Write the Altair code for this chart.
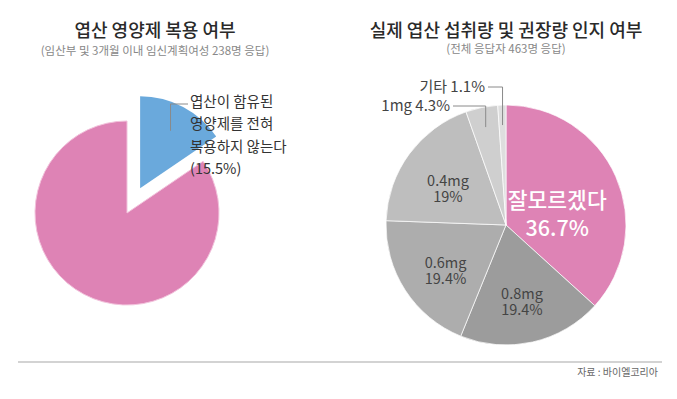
import math
import altair as alt
import pandas as pd

# ---------------- data ----------------
left_label_lines = ["엽산이 함유된", "영양제를 전혀", "복용하지 않는다"]
left_cats = [" ".join(left_label_lines), "복용한다"]
left_vals = [15.5, 84.5]

right_cats = ["잘모르겠다", "0.8mg", "0.6mg", "0.4mg", "1mg", "기타"]
right_vals = [36.7, 19.4, 19.4, 19.0, 4.3, 1.1]

left_title = "엽산 영양제 복용 여부"
left_sub = "(임산부 및 3개월 이내 임신계획여성 238명 응답)"
right_title = "실제 엽산 섭취량 및 권장량 인지 여부"
right_sub = "(전체 응답자 463명 응답)"
source = "자료 : 바이엘코리아"

left_colors = ["#6aa9dc", "#de83b5"]
right_colors = ["#de83b5", "#9c9c9c", "#adadad", "#bebebe", "#cfcfcf", "#dedede"]

FONT = "Noto Sans CJK KR"

# layout (chart pixel coords)
LCX, LCY, LR, EXPLODE = 119, 205, 92, 28
RCX, RCY, RR = 498, 217, 120


def shares(cats, vals):
    total = sum(vals)
    rows, acc = [], 0.0
    for c, v in zip(cats, vals):
        s = acc / total
        acc += v
        e = acc / total
        rows.append({"cat": c, "val": v, "start": s, "end": e, "mid": (s + e) / 2,
                     "lab": f"{c}\n{v:g}%", "olab": f"{c} {v:g}%"})
    return pd.DataFrame(rows)


L = shares(left_cats, left_vals)
R = shares(right_cats, right_vals)

# exploded centre of the first left slice and leader end points
L["bx"] = LCX + EXPLODE * (L["mid"] * 2 * math.pi).apply(math.sin)
L["by"] = LCY - EXPLODE * (L["mid"] * 2 * math.pi).apply(math.cos)
L["ex"] = L["bx"] + 65 * (L["mid"] * 2 * math.pi).apply(math.sin)
L["ey"] = L["by"] - 65 * (L["mid"] * 2 * math.pi).apply(math.cos)
R["px"] = RCX + 100 * (R["mid"] * 2 * math.pi).apply(math.sin)
R["py"] = RCY - 100 * (R["mid"] * 2 * math.pi).apply(math.cos)

TS = alt.Scale(domain=[0, 1], range=[0, 2 * math.pi])
CS = alt.Scale(domain=left_cats + right_cats, range=left_colors + right_colors)
theta = alt.Theta("start:Q", scale=TS)
theta2 = alt.Theta2("end:Q")
color = alt.Color("cat:N", scale=CS, legend=None)

# ---- left pie ----
left_pink = alt.Chart(L).transform_filter(alt.datum.cat == left_cats[1]).mark_arc(
    radius=LR, stroke="#f2c3dc", strokeWidth=1
).encode(theta=theta, theta2=theta2, color=color, x=alt.value(LCX), y=alt.value(LCY))

left_blue = alt.Chart(L).transform_filter(alt.datum.cat == left_cats[0]).mark_arc(
    radius=LR
).encode(theta=theta, theta2=theta2, color=color,
         x=alt.X("bx:Q", scale=None), y=alt.Y("by:Q", scale=None))

LBL_Y = 96
left_lead_h = alt.Chart(L).transform_filter(alt.datum.cat == left_cats[0]).mark_rule(
    color="#8a8a8a", strokeWidth=1
).encode(x=alt.X("ex:Q", scale=None), x2=alt.value(180), y=alt.value(LBL_Y))
left_lead_v = alt.Chart(L).transform_filter(alt.datum.cat == left_cats[0]).mark_rule(
    color="#8a8a8a", strokeWidth=1
).encode(x=alt.X("ex:Q", scale=None), y=alt.Y("ey:Q", scale=None), y2=alt.value(LBL_Y))

left_text = alt.Chart(L).transform_filter(alt.datum.cat == left_cats[0]).transform_calculate(
    t="replace(datum.cat, /(함유된|전혀) /g, '$1\\n') + '\\n(' + datum.val + '%)'"
).mark_text(
    align="left", baseline="middle", font=FONT, fontSize=14.5, color="#333333",
    lineBreak="\n", lineHeight=22.3
).encode(x=alt.value(182), y=alt.value(95), text="t:N")

# ---- right pie ----
right_pie = alt.Chart(R).mark_arc(radius=RR, stroke="white", strokeWidth=0.7).encode(
    theta=theta, theta2=theta2, color=color, x=alt.value(RCX), y=alt.value(RCY),
    order=alt.Order("start:Q")
)

in_cats = ["0.8mg", "0.6mg", "0.4mg"]
right_in = alt.Chart(R).transform_filter(alt.FieldOneOfPredicate(field="cat", oneOf=in_cats)).mark_text(
    radius=72, font=FONT, fontSize=14.5, color="#444444", lineBreak="\n", lineHeight=16,
    baseline="middle", align="center"
).encode(theta=alt.Theta("mid:Q", scale=TS), text="lab:N", x=alt.value(RCX), y=alt.value(RCY))

right_big = alt.Chart(R).transform_filter(alt.datum.cat == right_cats[0]).mark_text(
    radius=56, font=FONT, fontSize=21.5, color="white", lineBreak="\n", lineHeight=28,
    baseline="middle", align="center", fontWeight=500
).encode(theta=alt.Theta("mid:Q", scale=TS), text="lab:N", x=alt.value(RCX), y=alt.value(RCY))


def outside(cat, tx, ty):
    base = alt.Chart(R).transform_filter(alt.datum.cat == cat)
    txt = base.mark_text(align="right", baseline="middle", font=FONT, fontSize=15,
                         color="#444444").encode(x=alt.value(tx), y=alt.value(ty), text="olab:N")
    h = base.mark_rule(color="#8a8a8a", strokeWidth=1).encode(
        x=alt.X("px:Q", scale=None), x2=alt.value(tx + 3), y=alt.value(ty))
    v = base.mark_rule(color="#8a8a8a", strokeWidth=1).encode(
        x=alt.X("px:Q", scale=None), y=alt.Y("py:Q", scale=None), y2=alt.value(ty))
    return [txt, h, v]


out_layers = outside("기타", 477, 79) + outside("1mg", 442, 98)

# ---- titles / footer ----
dummy = pd.DataFrame({"k": [0]})


def label(text, x, y, size, color, align="center", weight="normal"):
    return alt.Chart(dummy).mark_text(
        align=align, baseline="middle", font=FONT, fontSize=size, color=color, fontWeight=weight
    ).encode(x=alt.value(x), y=alt.value(y), text=alt.value(text))


titles = [
    label(left_title, 147, 24, 18, "#2a2a2a", weight=500),
    label(left_sub, 147, 44, 11.5, "#888888"),
    label(right_title, 498, 24, 18, "#2a2a2a", weight=500),
    label(right_sub, 498, 42, 11.5, "#888888"),
    label(source, 650, 365, 10, "#666666", align="right"),
]

footer_line = alt.Chart(dummy).mark_rule(color="#d3d3d3", strokeWidth=2).encode(
    x=alt.value(10), x2=alt.value(654), y=alt.value(354)
)

chart = alt.layer(
    left_pink, left_blue, left_lead_h, left_lead_v, left_text,
    right_pie, right_in, right_big, *out_layers, footer_line, *titles
).properties(
    width=661, height=383, padding=0, autosize="none", background="white"
).configure_view(stroke=None)

chart.save("out.html", embed_options={"renderer": "svg", "actions": False})
